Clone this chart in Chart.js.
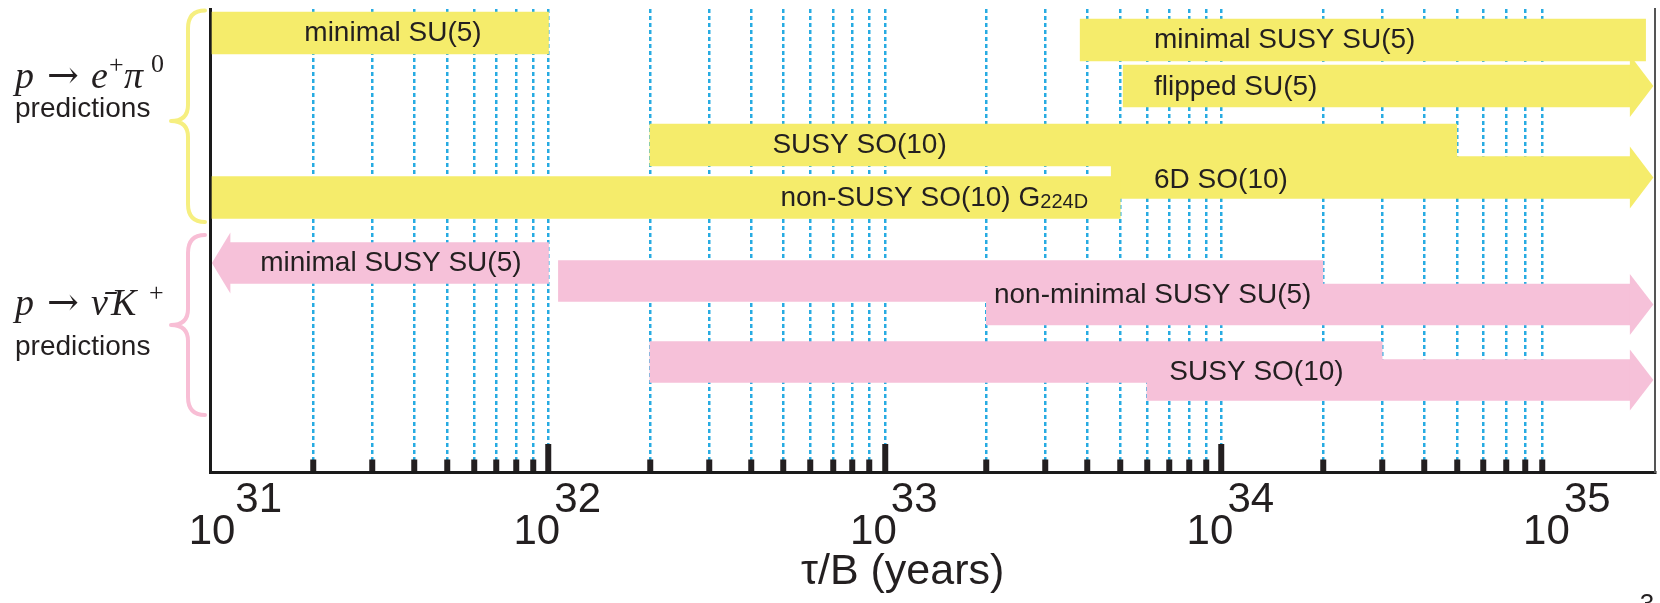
<!DOCTYPE html>
<html>
<head>
<meta charset="utf-8">
<title>Proton decay lifetime predictions</title>
<script src="https://cdn.jsdelivr.net/npm/chart.js@4.4.1/dist/chart.umd.min.js"></script>
<style>
  html, body { margin: 0; padding: 0; background: #ffffff; }
  #wrap { width: 1660px; height: 603px; }
</style>
</head>
<body>
<div id="wrap"><canvas id="chart" width="1660" height="603"></canvas></div>
<script>
// ---- data: predicted partial lifetimes tau/B (years) ----

// p -> e+ pi0 predictions
const ePiModels = ['minimal SU(5)', 'minimal SUSY SU(5)', 'flipped SU(5)', 'SUSY SO(10)', '6D SO(10)', 'non-SUSY SO(10) G224D'];
const ePiFrom   = [1.0e31, 3.8e33, 5.1e33, 2.0e32, 4.7e33, 1.0e31];
const ePiTo     = [1.0e32, 1.82e35, 1.64e35, 5.0e34, 1.64e35, 5.0e33];
const ePiOpen   = ['none', 'none', 'right', 'none', 'right', 'none'];
const ePiLane   = [2.4, 3.1, 7.7, 13.6, 16.85, 18.85];

// p -> nubar K+ predictions (some models given as two overlapping ranges)
const nuKModels = ['minimal SUSY SU(5)', 'non-minimal SUSY SU(5)', 'non-minimal SUSY SU(5)', 'SUSY SO(10)', 'SUSY SO(10)'];
const nuKFrom   = [1.13e31, 1.07e32, 2.0e33, 2.0e32, 6.0e33];
const nuKTo     = [1.0e32, 2.0e34, 1.64e35, 3.0e34, 1.64e35];
const nuKOpen   = ['left', 'none', 'right', 'none', 'right'];
const nuKLane   = [25.4, 27.2, 29.55, 35.3, 37.1];

// axis decades
const decades = [31, 32, 33, 34, 35];

// ---- styling ----
const YELLOW = '#F5EC6B';
const PINK = '#F6C1D9';
const DASH_BLUE = '#27ABE2';
const INK = '#231F20';
const SANS = '"Liberation Sans", Arial, Helvetica, sans-serif';
const SERIF = '"Liberation Serif", "DejaVu Serif", serif';

// bar label placement (x in years, lane on the vertical scale)
const barLabels = [
  { text: 'minimal SU(5)',        x: 3.45e31, lane: 2.4,  align: 'center' },
  { text: 'minimal SUSY SU(5)',   x: 6.3e33,  lane: 3.1,  align: 'left' },
  { text: 'flipped SU(5)',        x: 6.3e33,  lane: 7.8,  align: 'left' },
  { text: 'SUSY SO(10)',          x: 8.4e32,  lane: 13.6, align: 'center' },
  { text: '6D SO(10)',            x: 6.3e33,  lane: 17.1, align: 'left' },
  { text: 'non-SUSY SO(10) G', small: '224D', x: 1.40e33, lane: 18.9, align: 'center' },
  { text: 'minimal SUSY SU(5)',   x: 3.40e31, lane: 25.4, align: 'center' },
  { text: 'non-minimal SUSY SU(5)', x: 6.24e33, lane: 28.6, align: 'center' },
  { text: 'SUSY SO(10)',          x: 1.27e34, lane: 36.3, align: 'center' }
];

// tick positions: 1..9 x 10^n, the edge decades only carry a label
const tickValues = [];
const tickKind = [];
decades.forEach(e => {
  for (let m = 1; m <= 9; m++) {
    if (e === decades[decades.length - 1] && m > 1) break;
    tickValues.push(m * Math.pow(10, e));
    if (m === 1) tickKind.push(e === 31 || e === 35 ? 'edge' : 'major');
    else tickKind.push('minor');
  }
});

// "10" with the exponent raised to its upper right
function tickLabel(index) {
  if (tickKind[index] === 'minor') return '';
  const exp = String(Math.round(Math.log10(tickValues[index])));
  if (exp === '31') return ['        ' + exp, '10'];
  return ['     ' + exp, '10  '];
}

const HEAD_LEN = 23;
const HEAD_LEN_LEFT = 18;
const HEAD_FLARE = 10;

const annotate = {
  id: 'annotate',
  afterDatasetsDraw(chart) {
    const { ctx, scales: { x, y } } = chart;
    // arrowheads on open-ended ranges
    chart.data.datasets.forEach((ds, di) => {
      const meta = chart.getDatasetMeta(di);
      meta.data.forEach((bar, i) => {
        const dir = ds.openEnd[i];
        if (dir === 'none') return;
        const p = bar.getProps(['x', 'y', 'base', 'height'], true);
        const half = p.height / 2 + HEAD_FLARE;
        ctx.save();
        ctx.fillStyle = ds.backgroundColor;
        ctx.beginPath();
        if (dir === 'right') {
          const e = Math.max(p.x, p.base);
          ctx.moveTo(e - 0.5, p.y - half);
          ctx.lineTo(e + HEAD_LEN, p.y);
          ctx.lineTo(e - 0.5, p.y + half);
        } else {
          const s = Math.min(p.x, p.base);
          ctx.moveTo(s + 0.5, p.y - half);
          ctx.lineTo(s - HEAD_LEN_LEFT, p.y);
          ctx.lineTo(s + 0.5, p.y + half);
        }
        ctx.closePath();
        ctx.fill();
        ctx.restore();
      });
    });
    // model names
    ctx.save();
    ctx.fillStyle = INK;
    ctx.textBaseline = 'middle';
    barLabels.forEach(l => {
      const big = '28px ' + SANS;
      const small = '20px ' + SANS;
      ctx.font = big;
      const w1 = ctx.measureText(l.text).width;
      let w2 = 0;
      if (l.small) { ctx.font = small; w2 = ctx.measureText(l.small).width; }
      const px = x.getPixelForValue(l.x);
      const py = y.getPixelForValue(l.lane);
      const left = l.align === 'center' ? px - (w1 + w2) / 2 : px;
      ctx.textAlign = 'left';
      ctx.font = big;
      ctx.fillText(l.text, left, py);
      if (l.small) {
        ctx.font = small;
        ctx.textBaseline = 'alphabetic';
        ctx.fillText(l.small, left + w1, py + 10);
        ctx.textBaseline = 'middle';
      }
    });
    ctx.restore();
  },
  afterDraw(chart) {
    const { ctx, scales: { y } } = chart;
    const px = v => y.getPixelForValue(v);

    // curly braces grouping the two decay channels
    const brace = (top, tip, bottom, color) => {
      const xe = 205, xs = 188, xt = 171, r = 18, rt = 16;
      ctx.save();
      ctx.strokeStyle = color;
      ctx.lineWidth = 4;
      ctx.lineCap = 'round';
      ctx.lineJoin = 'round';
      ctx.beginPath();
      ctx.moveTo(xe, top);
      ctx.quadraticCurveTo(xs, top, xs, top + r);
      ctx.lineTo(xs, tip - rt);
      ctx.quadraticCurveTo(xs, tip, xt, tip);
      ctx.quadraticCurveTo(xs, tip, xs, tip + rt);
      ctx.lineTo(xs, bottom - r);
      ctx.quadraticCurveTo(xs, bottom, xe, bottom);
      ctx.stroke();
      ctx.restore();
    };
    brace(px(0.15), px(11.2), px(21.3), '#F6EF80');
    brace(px(22.6), px(31.6), px(40.6), '#F8BED5');

    // channel names
    const MATH = 'italic 38px ' + SERIF;
    const ARROW = '38px "DejaVu Serif", serif';
    const SUP = '26px ' + SERIF;
    const runs = (list, base) => {
      list.forEach(r => {
        ctx.font = r.f;
        ctx.fillText(r.t, r.x, base - (r.rise || 0));
      });
    };
    ctx.save();
    ctx.fillStyle = INK;
    ctx.textBaseline = 'alphabetic';
    ctx.textAlign = 'left';
    runs([
      { t: 'p', x: 15, f: MATH },
      { t: '\u2192', x: 47, f: ARROW },
      { t: 'e', x: 91, f: MATH },
      { t: '+', x: 109, f: SUP, rise: 15 },
      { t: '\u03C0', x: 124, f: MATH },
      { t: '0', x: 151, f: SUP, rise: 16 }
    ], px(7.9));
    runs([
      { t: 'p', x: 15, f: MATH },
      { t: '\u2192', x: 47, f: ARROW },
      { t: '\u03BD\u0304', x: 91, f: MATH },
      { t: 'K', x: 111, f: MATH },
      { t: '+', x: 149, f: SUP, rise: 14 }
    ], px(30.6));
    ctx.font = '28px ' + SANS;
    ctx.fillText('predictions', 15, px(10.8));
    ctx.fillText('predictions', 15, px(34.6));

    // page number
    ctx.font = '26px ' + SANS;
    ctx.textAlign = 'center';
    ctx.fillText('3', 1647, 612);
    ctx.restore();
  }
};

const ePiData = ePiFrom.map((f, i) => ({ x: [f, ePiTo[i]], y: ePiLane[i] }));
const nuKData = nuKFrom.map((f, i) => ({ x: [f, nuKTo[i]], y: nuKLane[i] }));

new Chart(document.getElementById('chart'), {
  type: 'bar',
  data: {
    datasets: [
      {
        label: 'p \u2192 e+ \u03C00',
        data: ePiData,
        models: ePiModels,
        openEnd: ePiOpen,
        backgroundColor: YELLOW,
        borderWidth: 0,
        barThickness: 42,
        grouped: false
      },
      {
        label: 'p \u2192 \u03BD\u0304 K+',
        data: nuKData,
        models: nuKModels,
        openEnd: nuKOpen,
        backgroundColor: PINK,
        borderWidth: 0,
        barThickness: 41,
        grouped: false
      }
    ]
  },
  options: {
    indexAxis: 'y',
    responsive: false,
    devicePixelRatio: 1,
    animation: false,
    events: [],
    layout: { padding: { top: 9, left: 0, right: 0, bottom: 0 } },
    plugins: { legend: { display: false }, tooltip: { enabled: false } },
    scales: {
      x: {
        type: 'logarithmic',
        position: 'bottom',
        min: Math.pow(10, 30.994),
        max: Math.pow(10, 35.288),
        offset: false,
        afterBuildTicks: s => { s.ticks = tickValues.map(v => ({ value: v })); },
        afterFit: s => { s.height = 131; },
        grid: {
          display: true,
          drawOnChartArea: true,
          drawTicks: true,
          tickLength: -28,
          lineWidth: 2.5,
          color: c => (tickKind[c.index] === 'edge' ? 'rgba(0,0,0,0)' : DASH_BLUE),
          tickWidth: 6,
          tickColor: c => (tickKind[c.index] === 'edge' ? 'rgba(0,0,0,0)' : INK),
          tickBorderDash: c => (tickKind[c.index] === 'minor' ? [14.5, 200] : [])
        },
        border: { display: true, color: '#1a1a1a', width: 3, dash: [4, 3] },
        ticks: {
          autoSkip: false,
          maxRotation: 0,
          minRotation: 0,
          padding: 41,
          color: INK,
          font: { family: SANS, size: 42, lineHeight: 0.75 },
          callback: (value, index) => tickLabel(index)
        },
        title: {
          display: true,
          text: '\u03C4/B (years)     ',
          color: INK,
          font: { family: SANS, size: 43, lineHeight: 1 },
          padding: { top: 0, bottom: 9 }
        }
      },
      y: {
        type: 'linear',
        position: 'left',
        min: 0,
        max: 46.3,
        reverse: true,
        offset: false,
        afterFit: s => { s.width = 210; },
        grid: { display: false, drawTicks: false },
        border: { display: true, color: '#1a1a1a', width: 3 },
        ticks: { display: false }
      },
      y2: {
        type: 'linear',
        position: 'right',
        min: 0,
        max: 46.3,
        reverse: true,
        offset: false,
        afterFit: s => { s.width = 5; },
        grid: { display: false, drawTicks: false },
        border: { display: true, color: '#555555', width: 2 },
        ticks: { display: false }
      }
    }
  },
  plugins: [annotate]
});
</script>
</body>
</html>
